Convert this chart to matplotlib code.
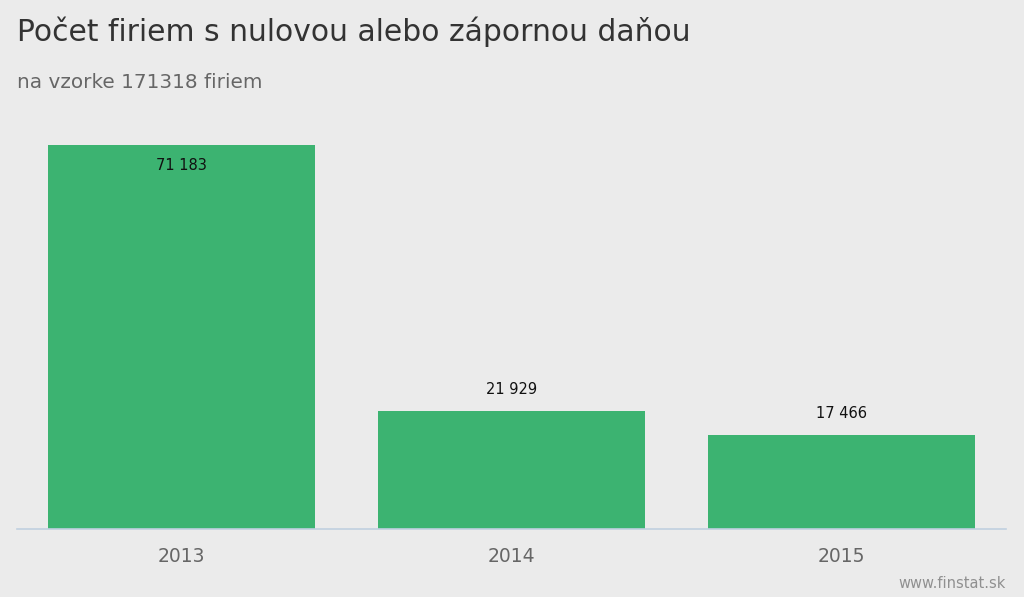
import matplotlib.pyplot as plt

years = ['2013', '2014', '2015']
counts = [71183, 21929, 17466]
labels = ['71 183', '21 929', '17 466']

bg = '#ebebeb'
bar_color = '#3cb371'

fig = plt.figure(figsize=(10.24, 5.97), dpi=100, facecolor=bg)
ax = fig.add_axes([17 / 1024, 68 / 597, 989 / 1024, 432 / 597])
ax.set_facecolor(bg)

x = range(len(years))
ax.bar(x, counts, width=0.81, color=bar_color, zorder=2)
ax.set_xlim(-0.5, len(years) - 0.5)
ax.set_ylim(0, 80000)

# first bar label sits inside, the others above
for i, (v, lab) in enumerate(zip(counts, labels)):
    off = -15 if i == 0 else 15
    ax.annotate(lab, (i, v), xytext=(0, off), textcoords='offset points',
                ha='center', va='center', fontsize=10.5, color='#111111')

ax.set_xticks(list(x))
ax.set_xticklabels(years, fontsize=13.5, color='#666666')
ax.tick_params(axis='x', length=0, pad=13)
ax.set_yticks([])
for s in ['top', 'right', 'left']:
    ax.spines[s].set_visible(False)
ax.spines['bottom'].set_color('#c0d0e0')
ax.spines['bottom'].set_linewidth(1.2)

fig.text(17 / 1024, 1 - 32 / 597, 'Počet firiem s nulovou alebo zápornou daňou',
         fontsize=21.4, color='#333333', va='center', ha='left')
fig.text(17 / 1024, 1 - 83 / 597, 'na vzorke 171318 firiem',
         fontsize=14.4, color='#666666', va='center', ha='left')
fig.text(1006 / 1024, 1 - 583 / 597, 'www.finstat.sk',
         fontsize=10.5, color='#909090', va='center', ha='right')

plt.savefig('out.png', dpi=100, facecolor=bg)
plt.close()
